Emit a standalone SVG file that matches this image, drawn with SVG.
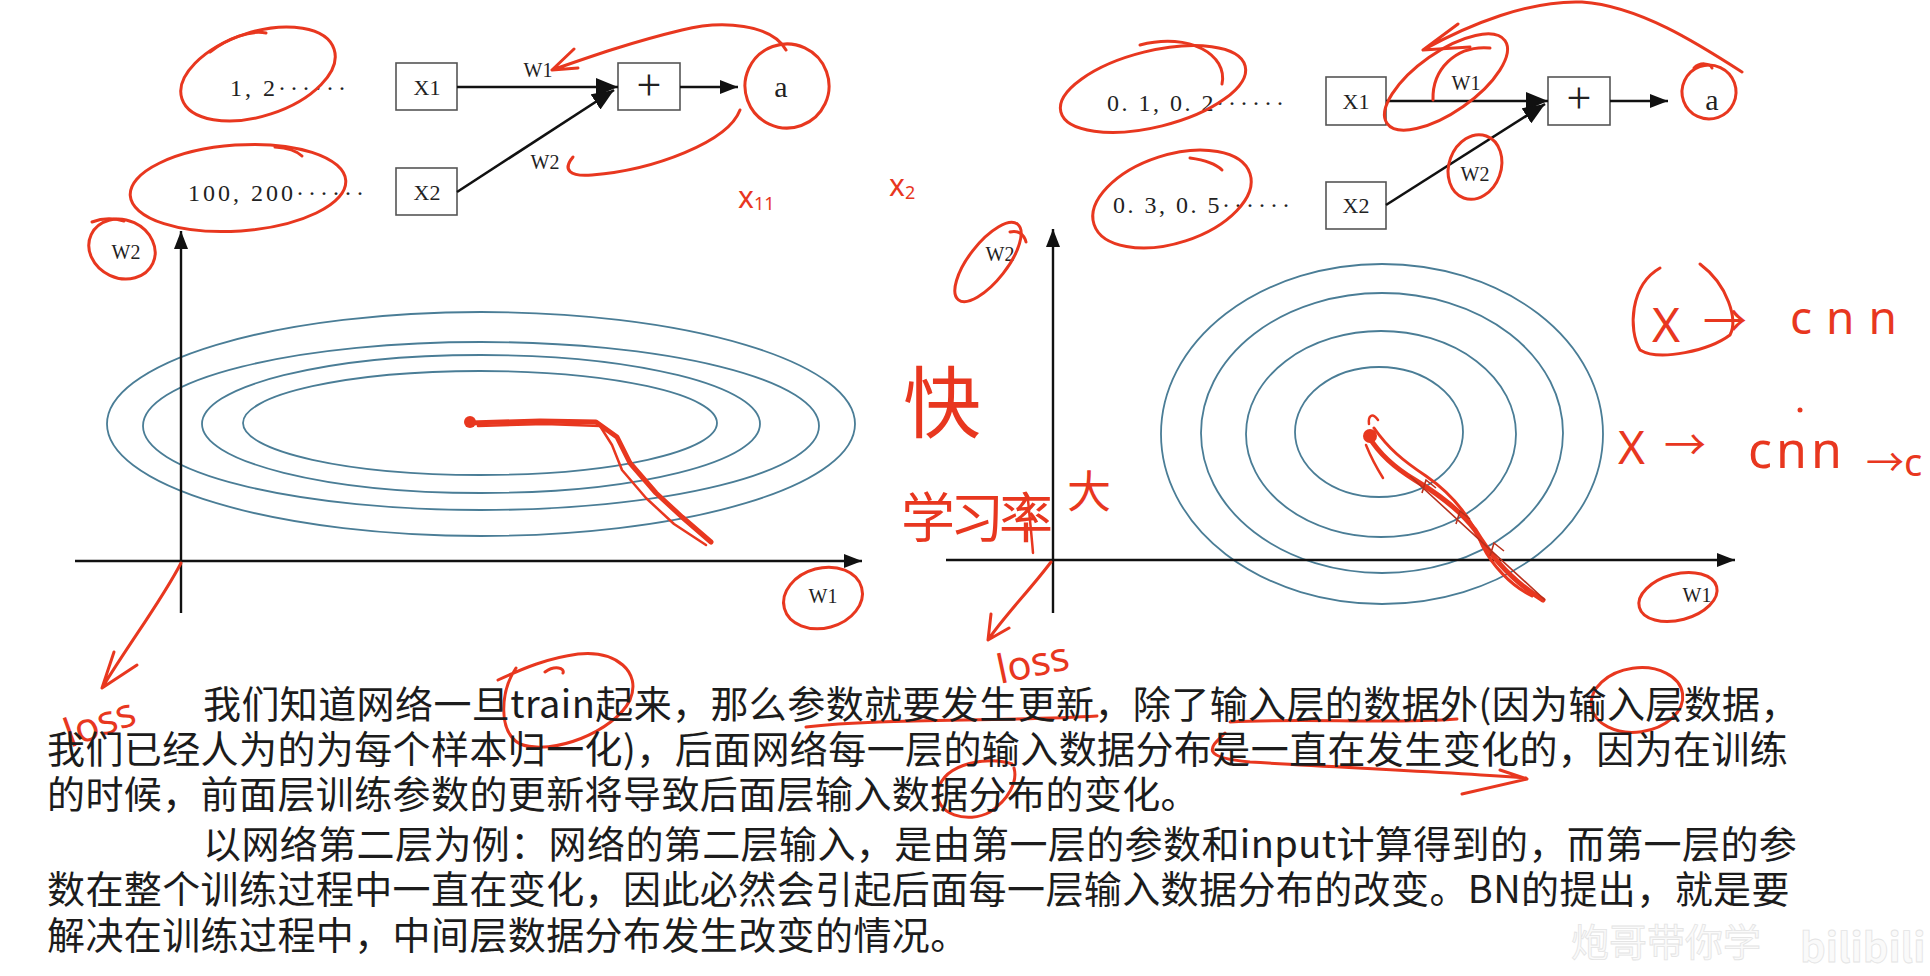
<svg xmlns="http://www.w3.org/2000/svg" width="1930" height="976" viewBox="0 0 1930 976">
<style>
.box{fill:#fff;stroke:#555;stroke-width:1.6}
.val{font-family:"Liberation Serif",serif;font-size:24px;fill:#222}
.nt{font-family:"Liberation Serif",serif;font-size:22px;fill:#222;text-anchor:middle}
.wl{font-family:"Liberation Serif",serif;font-size:20px;fill:#222;text-anchor:middle}
.ln{stroke:#111;stroke-width:2.6;fill:none}
.ax{stroke:#111;stroke-width:2.4;fill:none}
.ct{fill:none;stroke:#4a7d96;stroke-width:1.8}
.hw{fill:none;stroke:#e8371f;stroke-width:3;stroke-linecap:round;stroke-linejoin:round}
.hwt{font-family:"Noto Sans","Noto Sans CJK SC",sans-serif;fill:#e8371f}
.hwc{font-family:"Noto Sans CJK SC",sans-serif;fill:#e8371f}
.body{font-family:"Noto Sans CJK SC",sans-serif;font-size:38px;fill:#1c1c1c;letter-spacing:0.4px}
.wm{font-family:"Noto Sans CJK SC",sans-serif;fill:#fafafa;stroke:#e4e4e4;stroke-width:0.8}
</style>
<defs>
<marker id="ah" markerUnits="userSpaceOnUse" markerWidth="22" markerHeight="18" refX="22" refY="9" orient="auto">
<path d="M0,0 L22,9 L0,18 z" fill="#111"/>
</marker>
<marker id="ahs" markerUnits="userSpaceOnUse" markerWidth="18" markerHeight="14" refX="18" refY="7" orient="auto">
<path d="M0,0 L18,7 L0,14 z" fill="#111"/>
</marker>
</defs>
<rect width="1930" height="976" fill="#fff"/>

<!-- left network -->
<g id="left-val1"><text class="val" x="230" y="96"><tspan letter-spacing="3">1, 2</tspan><tspan letter-spacing="4">······</tspan></text></g>
<g id="left-val2"><text class="val" x="188" y="201"><tspan letter-spacing="3">100, 200</tspan><tspan letter-spacing="4">······</tspan></text></g>
<g id="left-x1"><rect class="box" x="396" y="63" width="61" height="47"/><text class="nt" x="427" y="95">X1</text></g>
<g id="left-x2"><rect class="box" x="396" y="168" width="61" height="47"/><text class="nt" x="427" y="200">X2</text></g>
<g id="left-plus"><rect class="box" x="618" y="63" width="62" height="47"/><text x="649" y="100" font-family="Liberation Serif,serif" font-size="44" text-anchor="middle" fill="#222">+</text></g>
<g id="left-a"><text x="781" y="97" font-family="Liberation Serif,serif" font-size="30" text-anchor="middle" fill="#222">a</text></g>
<g id="left-w1"><text class="wl" x="538" y="77">W1</text></g>
<g id="left-w2"><text class="wl" x="545" y="169">W2</text></g>

<!-- right network -->
<g id="right-val1"><text class="val" x="1107" y="111"><tspan letter-spacing="2.5">0. 1, 0. 2</tspan><tspan letter-spacing="4">······</tspan></text></g>
<g id="right-val2"><text class="val" x="1113" y="213"><tspan letter-spacing="2.5">0. 3, 0. 5</tspan><tspan letter-spacing="4">······</tspan></text></g>
<g id="right-x1"><rect class="box" x="1326" y="77" width="60" height="48"/><text class="nt" x="1356" y="109">X1</text></g>
<g id="right-x2"><rect class="box" x="1326" y="182" width="60" height="47"/><text class="nt" x="1356" y="213">X2</text></g>
<g id="right-plus"><rect class="box" x="1548" y="77" width="62" height="48"/><text x="1579" y="113" font-family="Liberation Serif,serif" font-size="44" text-anchor="middle" fill="#222">+</text></g>
<g id="right-a"><text x="1712" y="110" font-family="Liberation Serif,serif" font-size="30" text-anchor="middle" fill="#222">a</text></g>
<g id="right-w1"><text class="wl" x="1466" y="90">W1</text></g>
<g id="right-w2"><text class="wl" x="1475" y="181">W2</text></g>

<!-- axes labels -->
<g id="left-axis-w2"><text class="wl" x="126" y="259">W2</text></g>
<g id="left-axis-w1"><text class="wl" x="823" y="603">W1</text></g>
<g id="right-axis-w2"><text class="wl" x="1000" y="261">W2</text></g>
<g id="right-axis-w1"><text class="wl" x="1697" y="602">W1</text></g>

<!-- contours -->
<g id="left-contours">
<ellipse class="ct" cx="481" cy="424" rx="374" ry="112"/>
<ellipse class="ct" cx="481" cy="426" rx="338" ry="84"/>
<ellipse class="ct" cx="481" cy="424" rx="279" ry="69"/>
<ellipse class="ct" cx="480" cy="423" rx="237" ry="52"/>
</g>
<g id="right-contours">
<ellipse class="ct" cx="1382" cy="434" rx="221" ry="170"/>
<ellipse class="ct" cx="1382" cy="433" rx="181" ry="140"/>
<ellipse class="ct" cx="1381" cy="434" rx="135" ry="103"/>
<ellipse class="ct" cx="1379" cy="432" rx="84" ry="65"/>
</g>

<!-- connectors -->
<g id="connectors">
<line class="ln" x1="457" y1="87" x2="618" y2="87" marker-end="url(#ah)"/>
<line class="ln" x1="457" y1="192" x2="614" y2="90" marker-end="url(#ah)"/>
<line class="ln" x1="680" y1="87" x2="738" y2="87" marker-end="url(#ahs)"/>
<line class="ln" x1="1386" y1="101" x2="1548" y2="101" marker-end="url(#ah)"/>
<line class="ln" x1="1386" y1="205" x2="1545" y2="104" marker-end="url(#ah)"/>
<line class="ln" x1="1610" y1="101" x2="1668" y2="101" marker-end="url(#ahs)"/>
<line class="ax" x1="181" y1="613" x2="181" y2="231" marker-end="url(#ahs)"/>
<line class="ax" x1="75" y1="561" x2="862" y2="561" marker-end="url(#ahs)"/>
<line class="ax" x1="1053" y1="613" x2="1053" y2="229" marker-end="url(#ahs)"/>
<line class="ax" x1="946" y1="560" x2="1735" y2="560" marker-end="url(#ahs)"/>
</g>

<!-- handwritten annotations -->
<g id="annotations">
<ellipse class="hw" cx="258" cy="74" rx="80" ry="42" transform="rotate(-18 258 74)"/>
<path class="hw" d="M210,52 C228,38 250,30 266,33"/>
<ellipse class="hw" cx="238" cy="188" rx="108" ry="43" transform="rotate(-4 238 188)"/>
<path class="hw" d="M275,147 C288,148 297,151 302,156"/>
<ellipse class="hw" cx="787" cy="86" rx="42" ry="42" transform="rotate(-20 787 86)"/>
<path class="hw" d="M786,50 C772,24 722,20 682,30 C632,42 592,56 552,70 M574,49 L552,70 L578,68"/>
<path class="hw" d="M740,110 C728,142 654,170 592,175 C570,177 562,170 573,157"/>
<text class="hwt" x="738" y="208" font-size="30">x<tspan font-size="18" dy="2">11</tspan></text>
<text class="hwt" x="889" y="196" font-size="30">x<tspan font-size="18" dy="3">2</tspan></text>
<ellipse class="hw" cx="122" cy="249" rx="34" ry="29" transform="rotate(25 122 249)"/>
<path class="hw" d="M92,222 C102,218 114,218 124,221"/>
<path class="hw" d="M181,563 C162,600 130,642 102,688 M114,652 L102,688 L137,665"/>
<text class="hwt" font-size="40" transform="translate(70 748) rotate(-20)">loss</text>
<ellipse class="hw" cx="823" cy="598" rx="40" ry="30" transform="rotate(-15 823 598)"/>
<path class="hw" style="stroke-width:5" d="M470,423 L540,421 L596,422 L617,437 L630,463 L656,493 L682,517 L711,542"/>
<path class="hw" style="stroke-width:2.5" d="M478,426 L545,424 L600,426 L612,445 L622,470 L646,498 L674,524 L706,545"/>
<circle cx="470" cy="422" r="6" fill="#e8371f"/>

<ellipse class="hw" cx="1153" cy="89" rx="95" ry="38" transform="rotate(-14 1153 89)"/>
<path class="hw" d="M1140,45 C1190,32 1228,55 1222,84"/>
<ellipse class="hw" cx="1172" cy="199" rx="82" ry="44" transform="rotate(-18 1172 199)"/>
<path class="hw" d="M1190,158 C1205,160 1216,164 1222,170"/>
<ellipse class="hw" cx="1446" cy="82" rx="72" ry="30" transform="rotate(-35 1446 82)"/>
<path class="hw" d="M1433,100 C1432,70 1455,45 1490,48"/>
<path class="hw" d="M1742,72 C1700,45 1640,6 1582,2 C1530,0 1470,24 1423,50 M1423,50 L1458,24 M1423,50 L1470,47"/>
<ellipse class="hw" cx="1709" cy="92" rx="27" ry="27" transform="rotate(-20 1709 92)"/>
<path class="hw" d="M1694,68 C1700,62 1710,63 1712,68"/>
<ellipse class="hw" cx="1475" cy="167" rx="26" ry="33" transform="rotate(20 1475 167)"/>
<ellipse class="hw" cx="988" cy="262" rx="48" ry="19" transform="rotate(-52 988 262)"/>
<path class="hw" d="M1010,232 C1018,230 1024,234 1026,242"/>
<ellipse class="hw" cx="1678" cy="597" rx="40" ry="23" transform="rotate(-15 1678 597)"/>
<path class="hw" d="M1051,562 C1030,590 1005,615 988,640 M988,640 L991,614 M988,640 L1009,628"/>
<text class="hwt" font-size="40" transform="translate(1000 684) rotate(-12)">loss</text>
<path class="hw" style="stroke-width:5" d="M1369,437 C1380,455 1395,468 1415,480 C1440,495 1460,510 1475,530 C1490,555 1510,580 1543,600"/>
<path class="hw" style="stroke-width:3" d="M1374,428 C1388,448 1402,460 1426,476 C1452,494 1470,515 1482,545 C1492,565 1510,585 1532,596"/>
<path class="hw" style="stroke-width:2.5" d="M1366,445 C1372,460 1378,470 1383,478 M1378,420 C1372,412 1368,416 1369,424"/>
<circle cx="1370" cy="436" r="7" fill="#e8371f"/>
<path d="M1410,476 L1545,600 M1422,493 L1426,480 L1436,488 M1456,524 L1460,511 L1470,519 M1490,556 L1494,543 L1504,551" fill="none" stroke="#b8301c" stroke-width="1.6"/>
<text class="hwc" x="903" y="432" font-size="78">快</text>
<text class="hwc" x="901" y="538" font-size="54" letter-spacing="-5">学习率</text>
<path class="hw" style="stroke-width:2.5" d="M1028,500 C1030,520 1032,540 1033,553"/>
<text class="hwc" x="1067" y="508" font-size="44">大</text>

<path class="hw" d="M1660,268 C1630,285 1628,330 1640,350 C1660,362 1710,350 1730,335 C1738,320 1728,285 1700,264"/>
<text class="hwt" x="1652" y="342" font-size="48">X</text>
<text class="hwt" x="1703" y="337" font-size="44">→</text>
<text class="hwt" x="1790" y="334" font-size="46" letter-spacing="14">cnn</text>
<text class="hwt" x="1618" y="464" font-size="46">X</text>
<text class="hwt" x="1664" y="460" font-size="42">→</text>
<text class="hwt" x="1748" y="468" font-size="50" letter-spacing="4">cnn</text>
<circle cx="1800" cy="410" r="2.5" fill="#e8371f"/>
<text class="hwt" x="1866" y="476" font-size="38">→c</text>

<path class="hw" d="M516,668 C500,692 498,732 520,744 C552,756 614,732 630,700 C642,672 616,650 578,654 C548,658 524,668 498,680 M545,672 C555,665 565,668 563,673"/>
<path class="hw" d="M806,727 C880,718 1000,722 1097,716"/>
<path class="hw" d="M1230,722 C1300,718 1390,724 1457,719"/>
<ellipse class="hw" cx="1637" cy="700" rx="46" ry="32" transform="rotate(-8 1637 700)"/>
<path class="hw" d="M1225,733 C1212,746 1196,757 1250,762 C1350,768 1450,772 1526,778 M1500,770 L1527,779 L1462,794"/>
<path class="hw" d="M1012,764 C990,756 945,762 938,790 C934,815 968,824 990,812 C1008,800 1018,782 1014,768"/>
</g>

<!-- body text -->
<g id="paragraph">
<text class="body" x="203" y="718">我们知道网络一旦train起来，那么参数就要发生更新，除了输入层的数据外(因为输入层数据，</text>
<text class="body" x="47" y="763">我们已经人为的为每个样本归一化)，后面网络每一层的输入数据分布是一直在发生变化的，因为在训练</text>
<text class="body" x="47" y="808">的时候，前面层训练参数的更新将导致后面层输入数据分布的变化。</text>
<text class="body" x="203" y="858">以网络第二层为例：网络的第二层输入，是由第一层的参数和input计算得到的，而第一层的参</text>
<text class="body" x="47" y="903">数在整个训练过程中一直在变化，因此必然会引起后面每一层输入数据分布的改变。BN的提出，就是要</text>
<text class="body" x="47" y="949">解决在训练过程中，中间层数据分布发生改变的情况。</text>
</g>

<g id="watermark">
<text class="wm" x="1571" y="956" font-size="38">炮哥带你学</text>
<text class="wm" x="1800" y="962" font-size="40" font-weight="bold">bilibili</text>
</g>
</svg>
